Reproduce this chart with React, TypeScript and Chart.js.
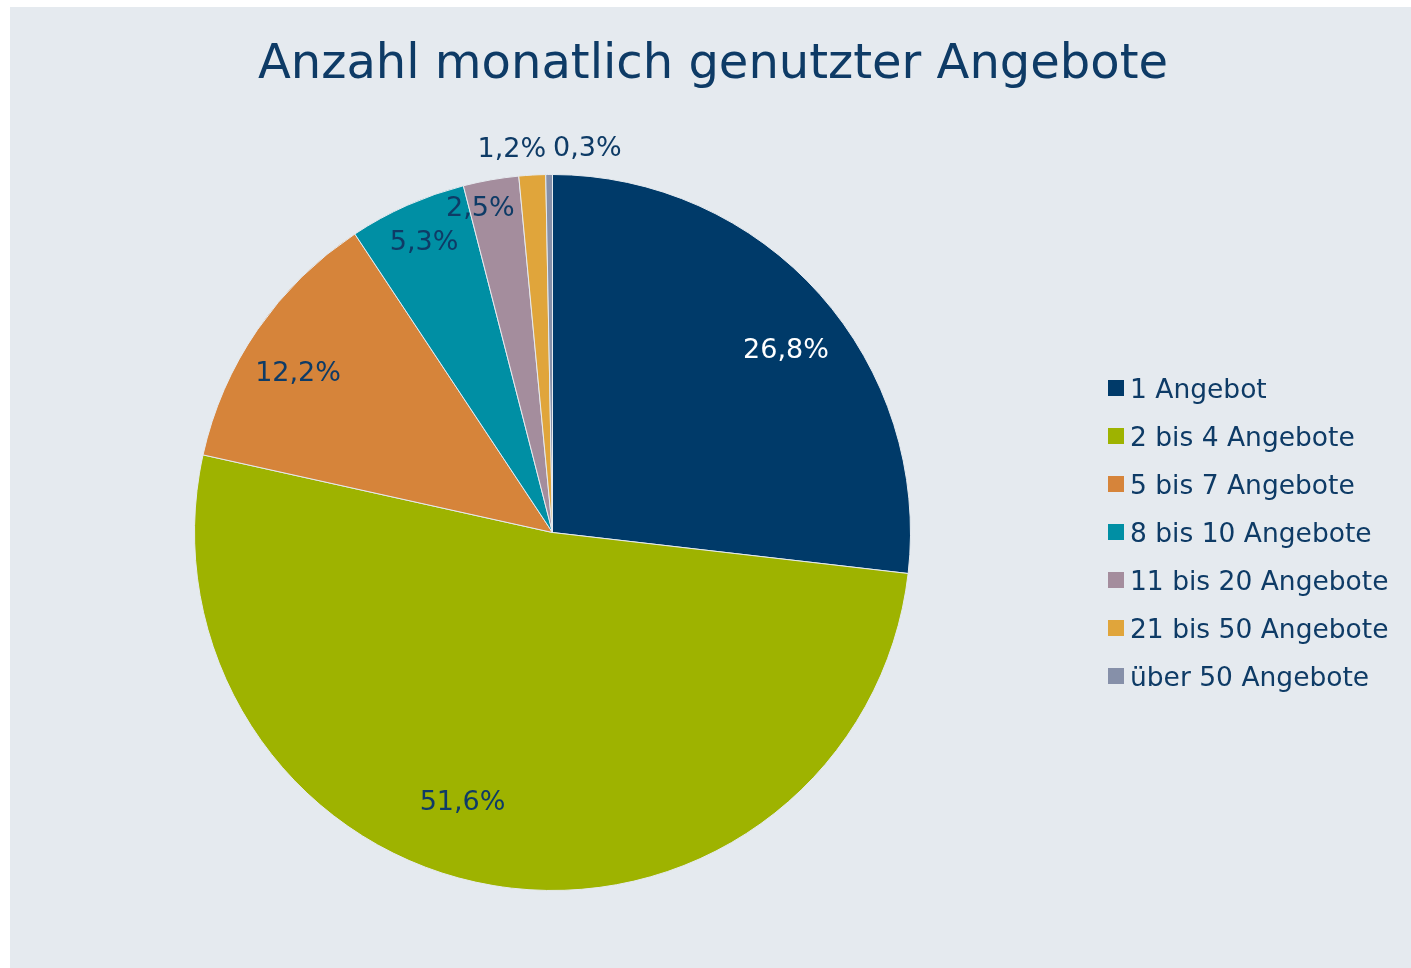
import React, { useEffect, useRef } from "react";
import { Chart, registerables } from "chart.js";

Chart.register(...registerables);

const TITLE = "Anzahl monatlich genutzter Angebote";
const categories = [
  "1 Angebot",
  "2 bis 4 Angebote",
  "5 bis 7 Angebote",
  "8 bis 10 Angebote",
  "11 bis 20 Angebote",
  "21 bis 50 Angebote",
  "über 50 Angebote",
];
const shares = [26.8, 51.6, 12.2, 5.3, 2.5, 1.2, 0.3];
const labelTexts = ["26,8%", "51,6%", "12,2%", "5,3%", "2,5%", "1,2%", "0,3%"];
const sliceColors = ["#003A69", "#9EB300", "#D6843A", "#008FA4", "#A48D9D", "#E0A53B", "#8690A9"];
const labelColors = ["#FFFFFF", "#0E3B66", "#0E3B66", "#0E3B66", "#0E3B66", "#0E3B66", "#0E3B66"];
// label placement (angle shift in degrees from slice middle, radius as fraction of pie radius)
const labelAngleShift = [3.5, 9, -2.3, 0.2, -2.6, -2.8, 5.7];
const labelRadius = [0.83, 0.79, 0.84, 0.89, 0.93, 1.08, 1.08];

const BG = "#E5EAEF";
const TEXT = "#0E3B66";
const FONT = "'DejaVu Sans', Verdana, sans-serif";

const overlayPlugin = {
  id: "overlay",
  afterDraw(chart: any) {
    const ctx = chart.ctx as CanvasRenderingContext2D;
    ctx.save();
    // title
    ctx.fillStyle = TEXT;
    ctx.font = `48px ${FONT}`;
    ctx.textAlign = "center";
    ctx.textBaseline = "alphabetic";
    ctx.fillText(TITLE, 703, 71);

    // data labels
    const meta = chart.getDatasetMeta(0);
    ctx.font = `27px ${FONT}`;
    ctx.textBaseline = "middle";
    meta.data.forEach((arc: any, i: number) => {
      const { x, y, startAngle, endAngle, outerRadius } = arc.getProps(
        ["x", "y", "startAngle", "endAngle", "outerRadius"],
        true
      );
      const mid = (startAngle + endAngle) / 2 + (labelAngleShift[i] * Math.PI) / 180;
      const r = outerRadius * labelRadius[i];
      ctx.fillStyle = labelColors[i];
      ctx.fillText(labelTexts[i], x + Math.cos(mid) * r, y + Math.sin(mid) * r + 2);
    });

    // legend
    ctx.font = `26.5px ${FONT}`;
    ctx.textAlign = "left";
    ctx.textBaseline = "alphabetic";
    categories.forEach((c, i) => {
      const cy = 381 + i * 48;
      ctx.fillStyle = sliceColors[i];
      ctx.fillRect(1098, cy - 8, 16, 16);
      ctx.fillStyle = TEXT;
      ctx.fillText(c, 1120, cy + 10);
    });
    ctx.restore();
  },
};

export default function App() {
  const ref = useRef<HTMLCanvasElement>(null);
  useEffect(() => {
    if (!ref.current) return;
    const chart = new Chart(ref.current, {
      type: "pie",
      data: {
        labels: categories,
        datasets: [
          {
            data: shares,
            backgroundColor: sliceColors,
            borderColor: BG,
            borderWidth: 1,
          },
        ],
      },
      options: {
        responsive: false,
        animation: false,
        layout: { padding: { left: 184, top: 167, right: 500, bottom: 77 } },
        plugins: {
          legend: { display: false },
          tooltip: { enabled: false },
          title: { display: false },
        },
      },
      plugins: [overlayPlugin],
    });
    return () => chart.destroy();
  }, []);
  return (
    <div
      style={{
        position: "fixed",
        left: 10,
        top: 7,
        width: 1401,
        height: 961,
        background: BG,
      }}
    >
      <canvas ref={ref} width={1401} height={961} style={{ display: "block" }} />
    </div>
  );
}
